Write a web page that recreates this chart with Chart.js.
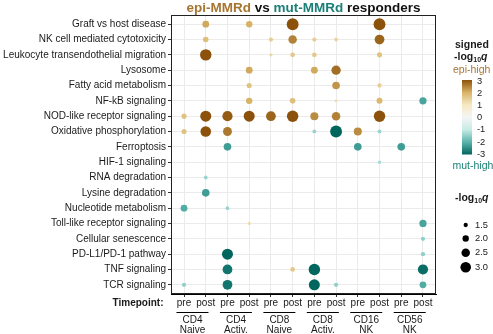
<!DOCTYPE html>
<html>
<head>
<meta charset="utf-8">
<script src="https://cdn.jsdelivr.net/npm/chart.js@4.4.1/dist/chart.umd.min.js"></script>
<style>
  html, body { margin: 0; padding: 0; background: #fff; }
  canvas { display: block; }
</style>
</head>
<body>
<canvas id="c" width="493" height="334"></canvas>
<script>
// Pathways (rows, top to bottom)
const pathways = [
  'Graft vs host disease',
  'NK cell mediated cytotoxicity',
  'Leukocyte transendothelial migration',
  'Lysosome',
  'Fatty acid metabolism',
  'NF-kB signaling',
  'NOD-like receptor signaling',
  'Oxidative phosphorylation',
  'Ferroptosis',
  'HIF-1 signaling',
  'RNA degradation',
  'Lysine degradation',
  'Nucleotide metabolism',
  'Toll-like receptor signaling',
  'Cellular senescence',
  'PD-L1/PD-1 pathway',
  'TNF signaling',
  'TCR signaling'
];

// Columns: timepoint within each cell type
const timepoints = ['pre', 'post', 'pre', 'post', 'pre', 'post', 'pre', 'post', 'pre', 'post', 'pre', 'post'];
const cellTypes = [['CD4', 'Naive'], ['CD4', 'Activ.'], ['CD8', 'Naive'], ['CD8', 'Activ.'], ['CD16', 'NK'], ['CD56', 'NK']];

// Signed -log10 q per column (positive = epi-high, negative = mut-high, null = not shown)
const n = null;
const cd4NaivePre   = [n, n, n, n, n, n, 1.7, 1.7, n, n, n, n, -2.1, n, n, n, n, -1.5];
const cd4NaivePost  = [2.1, 1.8, 3.2, n, n, n, 3.1, 3.0, n, n, -1.4, -2.3, n, n, n, n, n, n];
const cd4ActivPre   = [n, n, n, n, n, n, 2.9, 2.6, -2.3, n, n, n, -1.4, n, n, -3.1, -2.8, -2.8];
const cd4ActivPost  = [2.0, n, n, 2.1, 1.7, 2.0, 3.1, n, n, n, n, n, n, 1.25, n, n, n, n];
const cd8NaivePre   = [n, 1.5, 1.3, n, n, n, 2.8, n, n, n, n, n, n, n, n, n, n, n];
const cd8NaivePost  = [3.3, 2.5, 1.6, n, n, 1.8, 3.2, n, n, n, n, n, n, n, n, n, 1.6, n];
const cd8ActivPre   = [n, 1.5, 1.6, 2.1, n, n, 2.4, -1.4, n, n, n, n, n, n, n, n, -3.2, -3.1];
const cd8ActivPost  = [n, 1.4, n, 2.7, 2.3, 1.2, 2.5, -3.3, n, n, n, n, n, n, n, n, n, -1.5];
const cd16NkPre     = [n, n, n, n, n, n, n, 2.4, -2.3, n, n, n, n, n, n, n, n, n];
const cd16NkPost    = [3.3, 2.8, 1.7, n, 1.5, 1.9, 3.2, -1.4, n, -1.3, n, n, n, n, n, n, n, n];
const cd56NkPre     = [n, n, n, n, n, n, n, n, -2.3, n, n, n, n, n, n, n, n, n];
const cd56NkPost    = [n, n, n, n, n, -2.2, n, n, n, n, n, n, n, -2.2, -1.5, -1.5, -2.9, -2.1];

const columns = [cd4NaivePre, cd4NaivePost, cd4ActivPre, cd4ActivPost, cd8NaivePre, cd8NaivePost,
                 cd8ActivPre, cd8ActivPost, cd16NkPre, cd16NkPost, cd56NkPre, cd56NkPost];

// Legend ticks
const colorTicks = [3, 2, 1, 0, -1, -2, -3];
const sizeTicks = [1.5, 2.0, 2.5, 3.0];

// BrBG diverging palette from -3 (mut-high) to +3 (epi-high)
const paletteStops = ['#01665e', '#5ab4ac', '#c7eae5', '#f5f5f5', '#f6e8c3', '#d8b365', '#8c510a'];

function hexToRgb(h) {
  return [parseInt(h.slice(1, 3), 16), parseInt(h.slice(3, 5), 16), parseInt(h.slice(5, 7), 16)];
}
function colorFor(v) {
  const t = Math.max(-3, Math.min(3, v)) + 3;
  const i = Math.min(5, Math.floor(t));
  const f = t - i;
  const a = hexToRgb(paletteStops[i]), b = hexToRgb(paletteStops[i + 1]);
  const c = a.map((x, k) => Math.round(x + (b[k] - x) * f));
  return `rgb(${c[0]},${c[1]},${c[2]})`;
}
function radiusFor(absV) {
  return Math.max(1.3, 2.15 + (absV - 1.5) * 2.1);
}

const points = [];
columns.forEach((col, ci) => {
  col.forEach((v, ri) => {
    if (v !== null) points.push({ x: ci, y: ri, r: radiusFor(Math.abs(v)), v: v });
  });
});

const FONT = '"Liberation Sans", Arial, Helvetica, sans-serif';
const INK = '#1a1a1a';

const extras = {
  id: 'extras',
  afterDraw(chart) {
    const { ctx, chartArea: a, scales: { x } } = chart;
    ctx.save();

    // panel frame
    ctx.strokeStyle = '#222';
    ctx.lineWidth = 1;
    ctx.strokeRect(Math.round(a.left) + 0.5, Math.round(a.top) + 0.5,
                   Math.round(a.right) - Math.round(a.left) - 1, Math.round(a.bottom) - Math.round(a.top) - 1);

    // title with coloured group names
    const parts = [['epi-MMRd', '#a6752f'], [' vs ', '#111'], ['mut-MMRd', '#1b8077'], [' responders', '#111']];
    ctx.font = `bold 13.5px ${FONT}`;
    ctx.textBaseline = 'alphabetic';
    ctx.textAlign = 'left';
    const total = parts.reduce((s, p) => s + ctx.measureText(p[0]).width, 0);
    let tx = (a.left + a.right) / 2 - total / 2;
    parts.forEach(([txt, col]) => {
      ctx.fillStyle = col;
      ctx.fillText(txt, tx, 12.3);
      tx += ctx.measureText(txt).width;
    });

    // x-axis group label
    ctx.font = `bold 10px ${FONT}`;
    ctx.fillStyle = INK;
    ctx.textAlign = 'right';
    ctx.textBaseline = 'middle';
    ctx.fillText('Timepoint:', 163.5, 303.5);

    // cell type brackets
    ctx.font = `10px ${FONT}`;
    ctx.textAlign = 'center';
    ctx.strokeStyle = '#000';
    ctx.lineWidth = 1;
    cellTypes.forEach((ct, g) => {
      const c = (x.getPixelForValue(2 * g) + x.getPixelForValue(2 * g + 1)) / 2 - 2.4;
      ctx.beginPath();
      ctx.moveTo(c - 16, 312.5);
      ctx.lineTo(c + 16, 312.5);
      ctx.stroke();
      ctx.fillText(ct[0], c, 320.5);
      ctx.fillText(ct[1], c, 330.5);
    });

    // colour legend
    ctx.textAlign = 'left';
    ctx.font = `bold 10.5px ${FONT}`;
    ctx.fillStyle = INK;
    ctx.fillText('signed', 455, 45);
    drawLogQ(ctx, 454, 57);
    ctx.font = `10.5px ${FONT}`;
    ctx.fillStyle = '#a6752f';
    ctx.fillText('epi-high', 453, 70.5);
    ctx.fillStyle = '#1b8077';
    ctx.fillText('mut-high', 452.5, 166.5);

    const barTop = 80, barBot = 154.5, barL = 462, barW = 10;
    const grad = ctx.createLinearGradient(0, barTop, 0, barBot);
    paletteStops.slice().reverse().forEach((c, i) => grad.addColorStop(i / 6, c));
    ctx.fillStyle = grad;
    ctx.fillRect(barL, barTop, barW, barBot - barTop);
    ctx.font = `9.3px ${FONT}`;
    ctx.fillStyle = INK;
    colorTicks.forEach((t, i) => {
      ctx.fillText(String(t), 477, 81.7 + i * 12.05);
    });

    // size legend
    ctx.font = `bold 10.5px ${FONT}`;
    drawLogQ(ctx, 455, 198.5);
    const sizeY = [225, 238.5, 252.7, 267.3];
    ctx.font = `9.3px ${FONT}`;
    sizeTicks.forEach((s, i) => {
      ctx.beginPath();
      ctx.fillStyle = '#000';
      ctx.arc(465.7, sizeY[i], radiusFor(s), 0, Math.PI * 2);
      ctx.fill();
      ctx.fillStyle = INK;
      ctx.fillText(s.toFixed(1), 475, sizeY[i]);
    });

    ctx.restore();
  }
};

function drawLogQ(ctx, x0, y) {
  ctx.save();
  ctx.fillStyle = INK;
  ctx.textAlign = 'left';
  ctx.textBaseline = 'middle';
  ctx.font = `bold 10.5px ${FONT}`;
  ctx.fillText('-log', x0, y);
  let xx = x0 + ctx.measureText('-log').width;
  ctx.font = `bold 7px ${FONT}`;
  ctx.fillText('10', xx, y + 3);
  xx += ctx.measureText('10').width;
  ctx.font = `italic bold 10.5px ${FONT}`;
  ctx.fillText('q', xx, y);
  ctx.restore();
}

new Chart(document.getElementById('c'), {
  type: 'bubble',
  data: {
    datasets: [{
      data: points,
      backgroundColor: (c) => (c.raw ? colorFor(c.raw.v) : '#000'),
      borderWidth: 0,
      hoverBorderWidth: 0
    }]
  },
  options: {
    responsive: false,
    animation: false,
    devicePixelRatio: 1,
    events: [],
    layout: { padding: { top: 15, right: 57, left: 0, bottom: 0 } },
    plugins: { legend: { display: false }, tooltip: { enabled: false }, title: { display: false } },
    scales: {
      x: {
        type: 'linear',
        position: 'bottom',
        min: -0.6,
        max: 11.6,
        afterBuildTicks: (s) => { s.ticks = timepoints.map((_, i) => ({ value: i })); },
        afterFit: (s) => { s.height = 40; },
        grid: { color: '#ebebeb', lineWidth: 1, drawTicks: true, tickLength: 3, tickColor: '#333' },
        border: { display: true, color: '#000', width: 1 },
        ticks: {
          autoSkip: false, maxRotation: 0, minRotation: 0, padding: 0,
          color: INK, font: { family: FONT, size: 10 },
          callback: (v) => timepoints[v]
        }
      },
      y: {
        type: 'linear',
        position: 'left',
        reverse: true,
        min: -0.6,
        max: 17.6,
        afterBuildTicks: (s) => { s.ticks = pathways.map((_, i) => ({ value: i })); },
        afterFit: (s) => { s.width = 171; },
        grid: { color: '#ebebeb', lineWidth: 1, drawTicks: true, tickLength: 3, tickColor: '#333' },
        border: { display: true, color: '#000', width: 1 },
        ticks: {
          autoSkip: false, padding: 2,
          color: INK, font: { family: FONT, size: 10 },
          callback: (v) => pathways[v]
        }
      }
    }
  },
  plugins: [extras]
});
</script>
</body>
</html>
